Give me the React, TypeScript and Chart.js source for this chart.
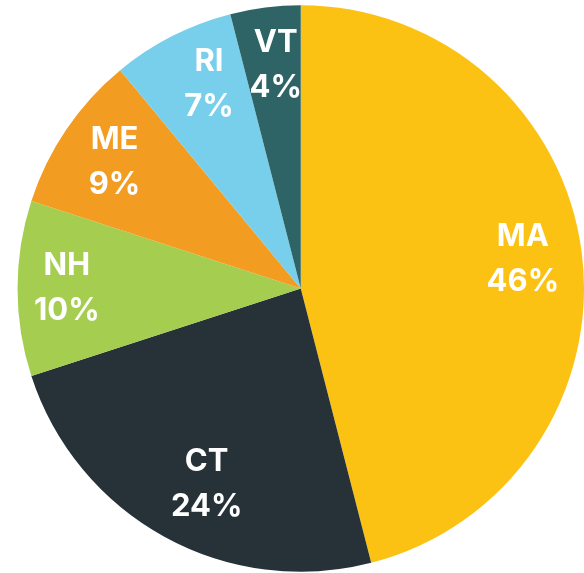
import React, { useEffect, useRef } from "react";
import { Chart, registerables } from "chart.js";

Chart.register(...registerables);

const states = ["MA", "CT", "NH", "ME", "RI", "VT"];
const shares = [46, 24, 10, 9, 7, 4];
const colors = ["#FBC213", "#263238", "#A5CD50", "#F39C22", "#77CFEB", "#2E6466"];
// label placement tweaks (fraction of radius, angle shift in degrees)
const labelRadius = [0.791, 0.766, 0.826, 0.795, 0.791, 0.792];
const labelShift = [-0.4, -3.1, 0, 0, 2.8, 0.8];

const labelPlugin = {
  id: "sliceLabels",
  afterDatasetsDraw(chart: any) {
    const ctx = chart.ctx;
    const meta = chart.getDatasetMeta(0);
    ctx.save();
    ctx.fillStyle = "#FFFFFF";
    ctx.font = "bold 31px Inter, 'Liberation Sans', sans-serif";
    ctx.textAlign = "center";
    ctx.textBaseline = "middle";
    meta.data.forEach((arc: any, i: number) => {
      const mid = (arc.startAngle + arc.endAngle) / 2 + (labelShift[i] * Math.PI) / 180;
      const r = arc.outerRadius * labelRadius[i];
      const x = arc.x + Math.cos(mid) * r;
      const y = arc.y + Math.sin(mid) * r;
      ctx.fillText(states[i], x, y - 22.5);
      ctx.fillText(shares[i] + "%", x, y + 22.5);
    });
    ctx.restore();
  },
};

export default function App() {
  const ref = useRef<HTMLCanvasElement>(null);
  useEffect(() => {
    if (!ref.current) return;
    const chart = new Chart(ref.current, {
      type: "pie",
      data: {
        labels: states,
        datasets: [
          {
            data: shares,
            backgroundColor: colors,
            borderWidth: 0,
          },
        ],
      },
      options: {
        animation: false,
        responsive: false,
        maintainAspectRatio: false,
        layout: { padding: { left: 17.5, top: 5, right: 0, bottom: 1 } },
        plugins: {
          legend: { display: false },
          tooltip: { enabled: false },
        },
      },
      plugins: [labelPlugin],
    });
    return () => chart.destroy();
  }, []);
  return (
    <div style={{ position: "fixed", left: 0, top: 0, width: 584, height: 573, background: "#fff" }}>
      <canvas ref={ref} width={584} height={573} style={{ display: "block", width: 584, height: 573 }} />
    </div>
  );
}
